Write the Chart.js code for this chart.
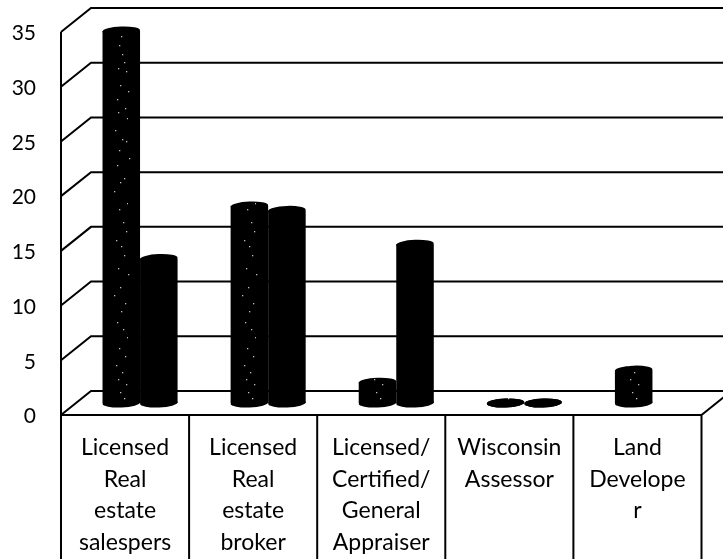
<!DOCTYPE html>
<html><head><meta charset="utf-8">
<style>html,body{margin:0;padding:0;background:#fff}canvas{display:block}</style>
<script src="https://cdn.jsdelivr.net/npm/chart.js@4"></script>
</head><body><canvas id="c" width="723" height="559"></canvas>
<script>
const categories = [
  ["Licensed","Real","estate","salespers"],
  ["Licensed","Real","estate","broker"],
  ["Licensed/","Certified/","General","Appraiser"],
  ["Wisconsin","Assessor"],
  ["Land","Develope","r"]
];
const seriesA = [34, 18, 1.9, 0, 3];
const seriesB = [13.2, 17.6, 14.5, 0, null];
const yTicks = [0, 5, 10, 15, 20, 25, 30, 35];

// speckle tile for the first series (repeats once per category)
const specks = [[121,36],[119,45],[122,54],[124,62],[118,68],[126,71],[120,85],[128,91],[117,99],[125,108],[118,112],[127,118],[115,130],[122,139],[126,141],[119,150],[129,158],[117,165],[124,178],[120,182],[114,191],[127,203],[119,209],[123,222],[126,231],[116,240],[121,246],[124,255],[118,268],[128,274],[120,287],[114,295],[125,303],[121,311],[117,322],[123,329],[127,337],[119,348],[125,356],[116,365],[122,372],[118,379],[126,384],[120,392],[124,398]];
const tile = document.createElement('canvas'); tile.width = 128; tile.height = 410;
const tc = tile.getContext('2d');
tc.fillStyle = '#000'; tc.fillRect(0,0,128,410);
tc.fillStyle = '#bdbdbd';
specks.forEach(s => tc.fillRect(s[0] % 128, s[1], 1.3, 1.3));
const ctx = document.getElementById('c').getContext('2d');
const speckle = ctx.createPattern(tile, 'repeat');

const DX = 15, DY = 12; // shift of bar plane from the front plane

const wall = {
  id: 'wall',
  beforeDatasetsDraw(chart) {
    const {ctx, scales:{x, y}} = chart;
    const step = x.width / categories.length;
    const left = x.left - DX, right = x.right - DX;
    ctx.save();
    ctx.strokeStyle = '#000'; ctx.lineWidth = 2;
    ctx.beginPath();
    yTicks.forEach(v => {
      const py = y.getPixelForValue(v) + DY;
      ctx.moveTo(left, py); ctx.lineTo(left + 2*DX, py - 2*DY);
      ctx.lineTo(right + 2*DX, py - 2*DY);
    });
    // front left edge, floor front edge, floor right edge
    const y0 = y.getPixelForValue(0) + DY, yTop = y.getPixelForValue(35) + DY;
    ctx.moveTo(left, yTop); ctx.lineTo(left, y0); ctx.lineTo(right, y0);
    ctx.lineTo(right + 2*DX, y0 - 2*DY);
    // table separators
    for (let i = 0; i <= categories.length; i++) {
      const px = left + i*step;
      ctx.moveTo(px, y0); ctx.lineTo(px, chart.height);
    }
    ctx.stroke();
    ctx.restore();
  },
  afterDatasetsDraw(chart) {
    const ctx = chart.ctx;
    chart.data.datasets.forEach((ds, di) => {
      chart.getDatasetMeta(di).data.forEach((bar, i) => {
        if (ds.data[i] === null) return;
        const w = bar.width / 2, ry = 4.5;
        ctx.fillStyle = ds.backgroundColor;
        ctx.beginPath(); ctx.ellipse(bar.x, bar.y, w, ry, -0.04, 0, Math.PI*2); ctx.fill();
        ctx.beginPath(); ctx.ellipse(bar.x, bar.base, w, ry, -0.04, 0, Math.PI*2); ctx.fill();
      });
    });
  }
};

function noPadding(s) { s.paddingTop = 0; s.paddingBottom = 0; s.paddingLeft = 0; s.paddingRight = 0; }

new Chart(ctx, {
  type: 'bar',
  data: {
    labels: categories,
    datasets: [
      {label: 'Series 1', data: seriesA, backgroundColor: speckle, borderWidth: 0},
      {label: 'Series 2', data: seriesB, backgroundColor: '#000', borderWidth: 0}
    ]
  },
  plugins: [wall],
  options: {
    responsive: false,
    animation: false,
    devicePixelRatio: 1,
    layout: {padding: {top: 20, right: 6.5, left: 0, bottom: 0}},
    plugins: {legend: {display: false}, title: {display: false}, tooltip: {enabled: false}},
    datasets: {bar: {barPercentage: 1, categoryPercentage: 0.586}},
    scales: {
      x: {
        grid: {display: false, drawTicks: false}, border: {display: false},
        afterFit(s) { s.height = 156; noPadding(s); },
        ticks: {
          autoSkip: false, maxRotation: 0, minRotation: 0, padding: 29, labelOffset: -DX,
          color: '#000', font: {family: 'Lato', size: 23, lineHeight: 1.37}
        }
      },
      y: {
        min: 0, max: 35,
        grid: {display: false, drawTicks: false}, border: {display: false},
        afterFit(s) { s.width = 76; noPadding(s); },
        ticks: {
          stepSize: 5, padding: 40, labelOffset: DY + 1.5,
          color: '#000', font: {family: 'Lato', size: 21}
        }
      }
    }
  }
});
</script></body></html>
